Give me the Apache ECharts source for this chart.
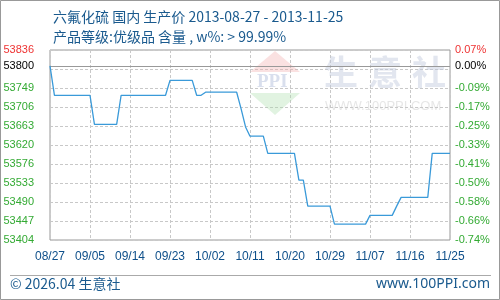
<!DOCTYPE html>
<html>
<head>
<meta charset="utf-8">
<script src="https://cdn.jsdelivr.net/npm/echarts@6/dist/echarts.min.js"></script>
<style>
html,body{margin:0;padding:0;background:#fff;}
#c{width:500px;height:300px;}
</style>
</head>
<body>
<div id="c"></div>
<script>
// ---- data ----
const titleLine1 = '六氟化硫 国内 生产价 2013-08-27 - 2013-11-25';
const titleLine2 = '产品等级:优级品 含量 , w%: > 99.99%';
const footerLeft = '© 2026.04 生意社';
const footerRight = 'www.100PPI.com';

const dates = [
 '08/27','08/28','08/29','08/30','08/31',
 '09/01','09/02','09/03','09/04','09/05','09/06','09/07','09/08','09/09','09/10',
 '09/11','09/12','09/13','09/14','09/15','09/16','09/17','09/18','09/19','09/20',
 '09/21','09/22','09/23','09/24','09/25','09/26','09/27','09/28','09/29','09/30',
 '10/01','10/02','10/03','10/04','10/05','10/06','10/07','10/08','10/09','10/10',
 '10/11','10/12','10/13','10/14','10/15','10/16','10/17','10/18','10/19','10/20',
 '10/21','10/22','10/23','10/24','10/25','10/26','10/27','10/28','10/29','10/30','10/31',
 '11/01','11/02','11/03','11/04','11/05','11/06','11/07','11/08','11/09','11/10',
 '11/11','11/12','11/13','11/14','11/15','11/16','11/17','11/18','11/19','11/20',
 '11/21','11/22','11/23','11/24','11/25'
];

const prices = [
 53800,
 53733,53733,53733,53733,53733,53733,53733,53733,53733,
 53667,53667,53667,53667,53667,53667,
 53733,53733,53733,53733,53733,53733,53733,53733,53733,53733,53733,
 53767,53767,53767,53767,53767,53767,
 53733,53733,
 53740,53740,53740,53740,53740,53740,53740,53740,
 53702,
 53661,
 53640,53640,53640,53640,
 53601,53601,53601,53601,53601,53601,53601,
 53540,53540,
 53481,53481,53481,53481,53481,53481,
 53440,53440,53440,53440,53440,53440,53440,53440,
 53460,53460,53460,53460,53460,53460,
 53481,
 53501,53501,53501,53501,53501,53501,53501,
 53601,53601,53601,53601,53601
];

const basePrice = 53800;
const basePctLabel = '0.00%';
const yMin = 53404;
const yMax = 53836;
// tick labels from bottom to top (11 ticks, index 9 not shown)
const leftTickLabels = ['53404','53447','53490','53533','53576','53620','53663','53706','53749','','53836'];
const rightTickLabels = ['-0.74%','-0.66%','-0.58%','-0.50%','-0.41%','-0.33%','-0.25%','-0.17%','-0.09%','','0.07%'];

// ---- chart ----
const GREEN = '#33aa33', RED = '#ee3333', BLUE = '#1a5a8e';
const chart = echarts.init(document.getElementById('c'), null, {renderer:'canvas'});
const labelFmt = (arr) => (v) => {
  const i = Math.round(v);
  const t = arr[i] || '';
  if (!t) return '';
  return (i === 10 ? '{r|' : '{g|') + t + '}';
};
const rich = {
  r: {color: RED, fontSize: 11, fontFamily: 'Liberation Sans'},
  g: {color: GREEN, fontSize: 11, fontFamily: 'Liberation Sans'}
};
const gridLine = {show: true, lineStyle: {color: '#c8c8c8', type: [3, 2], width: 1}};

chart.setOption({
  animation: false,
  backgroundColor: '#fff',
  title: [
    {text: titleLine1, left: 48, top: 5, textStyle: {fontSize: 14, fontWeight: 'normal', color: BLUE, fontFamily: 'Noto Sans CJK SC'}},
    {text: titleLine2, left: 48, top: 25, textStyle: {fontSize: 14, fontWeight: 'normal', color: BLUE, fontFamily: 'Noto Sans CJK SC'}}
  ],
  grid: {left: 50, right: 50, top: 50, bottom: 60, show: true, borderColor: '#999', borderWidth: 1, containLabel: false},
  xAxis: {
    type: 'category', data: dates, boundaryGap: false,
    axisLine: {show: false}, axisTick: {show: false},
    axisLabel: {interval: 8, color: '#0e4f8a', fontSize: 12, fontFamily: 'Liberation Sans', margin: 11},
    splitLine: Object.assign({interval: 8}, gridLine)
  },
  yAxis: [
    {type: 'value', min: yMin, max: yMax, show: false, splitLine: {show: false}},
    {type: 'value', position: 'left', min: 0, max: 10, interval: 1,
     axisLine: {show: false}, axisTick: {show: false},
     axisLabel: {formatter: labelFmt(leftTickLabels), rich: rich, margin: 16},
     splitLine: gridLine},
    {type: 'value', position: 'right', min: 0, max: 10, interval: 1,
     axisLine: {show: false}, axisTick: {show: false},
     axisLabel: {formatter: labelFmt(rightTickLabels), rich: rich, margin: 5, align: 'left'},
     splitLine: {show: false}}
  ],
  series: [{
    type: 'line', data: prices, yAxisIndex: 0, showSymbol: false, symbol: 'none',
    lineStyle: {color: '#3a9ad9', width: 1.3}, z: 5,
    markLine: {
      silent: true, symbol: 'none', animation: false,
      lineStyle: {color: '#999', type: 'solid', width: 1},
      data: [
        {yAxis: basePrice, label: {position: 'start', formatter: String(basePrice), color: '#000', fontSize: 11, fontFamily: 'Liberation Sans', distance: 16}},
        {yAxis: basePrice, label: {position: 'end', formatter: basePctLabel, color: '#000', fontSize: 11, fontFamily: 'Liberation Sans', distance: 5}}
      ]
    }
  }],
  graphic: [
    // watermark
    {type: 'polygon', z: 1, shape: {points: [[250, 72], [275, 51], [300, 72]]}, style: {fill: 'rgba(240,170,170,0.35)'}},
    {type: 'text', z: 1, left: 257, top: 73, style: {text: 'PPI', fill: 'rgba(170,185,215,0.45)', font: 'bold 19px "Liberation Serif"'}},
    {type: 'polygon', z: 1, shape: {points: [[250, 93], [275, 115], [300, 93]]}, style: {fill: 'rgba(170,220,170,0.35)'}},
    {type: 'text', z: 1, left: 324, top: 55, style: {text: '生', fill: 'rgba(190,200,220,0.45)', font: 'bold 34px "Noto Sans CJK SC"'}},
    {type: 'text', z: 1, left: 368, top: 55, style: {text: '意', fill: 'rgba(190,200,220,0.45)', font: 'bold 34px "Noto Sans CJK SC"'}},
    {type: 'text', z: 1, left: 412, top: 55, style: {text: '社', fill: 'rgba(190,200,220,0.45)', font: 'bold 34px "Noto Sans CJK SC"'}},
    {type: 'text', z: 1, left: 325, top: 100, style: {text: 'WWW.100PPI.COM', fill: 'rgba(200,200,200,0.45)', font: '13px "Liberation Sans"'}},
    // footer
    {type: 'line', shape: {x1: 10, y1: 275.5, x2: 491, y2: 275.5}, style: {stroke: '#aaa', lineWidth: 1}},
    {type: 'text', left: 10, top: 277, style: {text: footerLeft, fill: BLUE, font: '14px "Noto Sans CJK SC"'}},
    {type: 'text', right: 10, top: 277, style: {text: footerRight, fill: BLUE, font: '14px "Noto Sans"'}},
    // outer border
    {type: 'rect', shape: {x: 0.5, y: 0.5, width: 499, height: 299}, style: {fill: 'none', stroke: '#999', lineWidth: 1}}
  ]
});
</script>
</body>
</html>
